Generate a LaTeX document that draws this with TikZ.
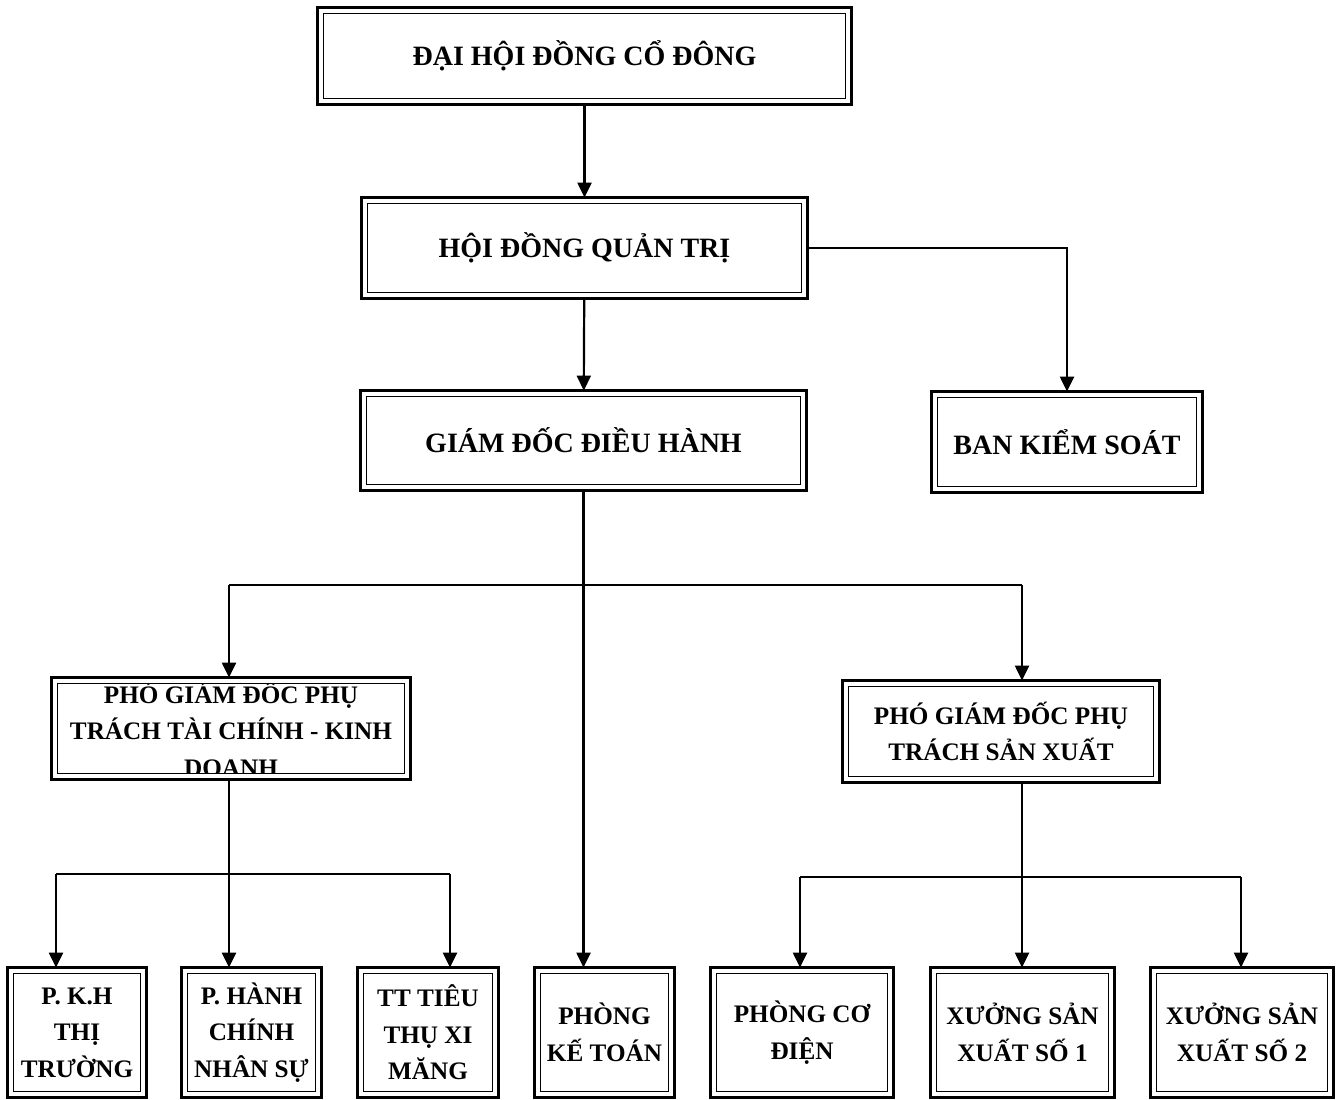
\documentclass[tikz,border=0pt]{standalone}
\usepackage{fontspec}
\setmainfont{Liberation Serif}
\usetikzlibrary{arrows.meta}

\tikzset{
  box/.style 2 args={inner sep=0pt, minimum width=#1*0.5pt, minimum height=#2*0.5pt, align=center, font=\bfseries\fontsize{14}{18}\selectfont},
  small/.style={font=\bfseries\fontsize{12.6}{18.3}\selectfont},
  arr/.style={-{Triangle[length=7.5pt,width=7pt]}, line width=1.1pt},
  bus/.style={line width=1.1pt},
}
% thick-thin frame round a box
\newcommand{\frm}[1]{%
  \draw[white, line width=3pt] ([shift={(1.7pt,-1.7pt)}]#1.north west) rectangle ([shift={(-1.7pt,1.7pt)}]#1.south east);
  \draw[line width=1.7pt] (#1.north west) rectangle (#1.south east);
  \draw[line width=0.7pt] ([shift={(2.9pt,-2.9pt)}]#1.north west) rectangle ([shift={(-2.9pt,2.9pt)}]#1.south east);}

\begin{document}
\begin{tikzpicture}[x=0.5pt, y=-0.5pt]
    \useasboundingbox (0,0) rectangle (1337,1099);
    % boxes
    \node[box={533}{96}] (dhd) at (584.5,56) {ĐẠI HỘI ĐỒNG CỔ ĐÔNG};
    \node[box={445}{100}] (hdqt) at (584.5,248) {HỘI ĐỒNG QUẢN TRỊ};
    \node[box={445}{99}] (gd) at (583.5,440.5) {GIÁM ĐỐC ĐIỀU HÀNH};
    \node[box={270}{100}] (bks) at (1067,442) {BAN KIỂM SOÁT};
    \node[box={358}{101}] (pgd1) at (231,728.5) {};
    \node[small, align=center] (pgd1t) at (pgd1) {PHÓ GIÁM ĐỐC PHỤ\\TRÁCH TÀI CHÍNH - KINH\\DOANH};
    \node[box={316}{101}, small] (pgd2) at (1001,731.5) {PHÓ GIÁM ĐỐC PHỤ\\TRÁCH SẢN XUẤT};
    %
    \node[box={138}{129}, small] (pkh) at (77,1032.5) {P. K.H\\THỊ\\TRƯỜNG};
    \node[box={139}{129}, small] (phc) at (251.5,1032.5) {P. HÀNH\\CHÍNH\\NHÂN SỰ};
    \node[box={140}{129}, small] (tttt) at (428,1032.5) {TT TIÊU\\THỤ XI\\MĂNG};
    \node[box={139}{129}, small] (pkt) at (604.5,1032.5) {PHÒNG\\KẾ TOÁN};
    \node[box={182}{129}, small] (pcd) at (802,1032.5) {PHÒNG CƠ\\ĐIỆN};
    \node[box={183}{129}, small] (xsx1) at (1022.5,1032.5) {XƯỞNG SẢN\\XUẤT SỐ 1};
    \node[box={182}{129}, small] (xsx2) at (1242,1032.5) {XƯỞNG SẢN\\XUẤT SỐ 2};
    %
    \foreach \n in {dhd,hdqt,gd,bks,pgd1,pgd2,pkh,phc,tttt,pkt,pcd,xsx1,xsx2}
      \frm{\n};
    % junctions
    \coordinate (jl) at (229,585);
    \coordinate (jr) at (1022,585);
    \coordinate (kl) at (56,874);
    \coordinate (kr) at (450,874);
    \coordinate (ml) at (800,877);
    \coordinate (mr) at (1241,877);
    % connectors
    \draw[arr] (dhd) -- (hdqt);
    \draw[arr] (hdqt) -- (gd);
    \draw[arr] (hdqt.east) -| (bks.north);
    \draw[arr] (gd.south) -- (gd.south |- pkt.north);
    %
    \draw[bus] (jl) -- (jr);
    \draw[arr] (jl) -- (jl |- pgd1.north);
    \draw[arr] (jr) -- (jr |- pgd2.north);
    %
    \draw[arr] (jl |- pgd1.south) -- (jl |- phc.north);
    \draw[bus] (kl) -- (kr);
    \draw[arr] (kl) -- (kl |- pkh.north);
    \draw[arr] (kr) -- (kr |- tttt.north);
    %
    \draw[arr] (jr |- pgd2.south) -- (jr |- xsx1.north);
    \draw[bus] (ml) -- (mr);
    \draw[arr] (ml) -- (ml |- pcd.north);
    \draw[arr] (mr) -- (mr |- xsx2.north);
\end{tikzpicture}
\end{document}
